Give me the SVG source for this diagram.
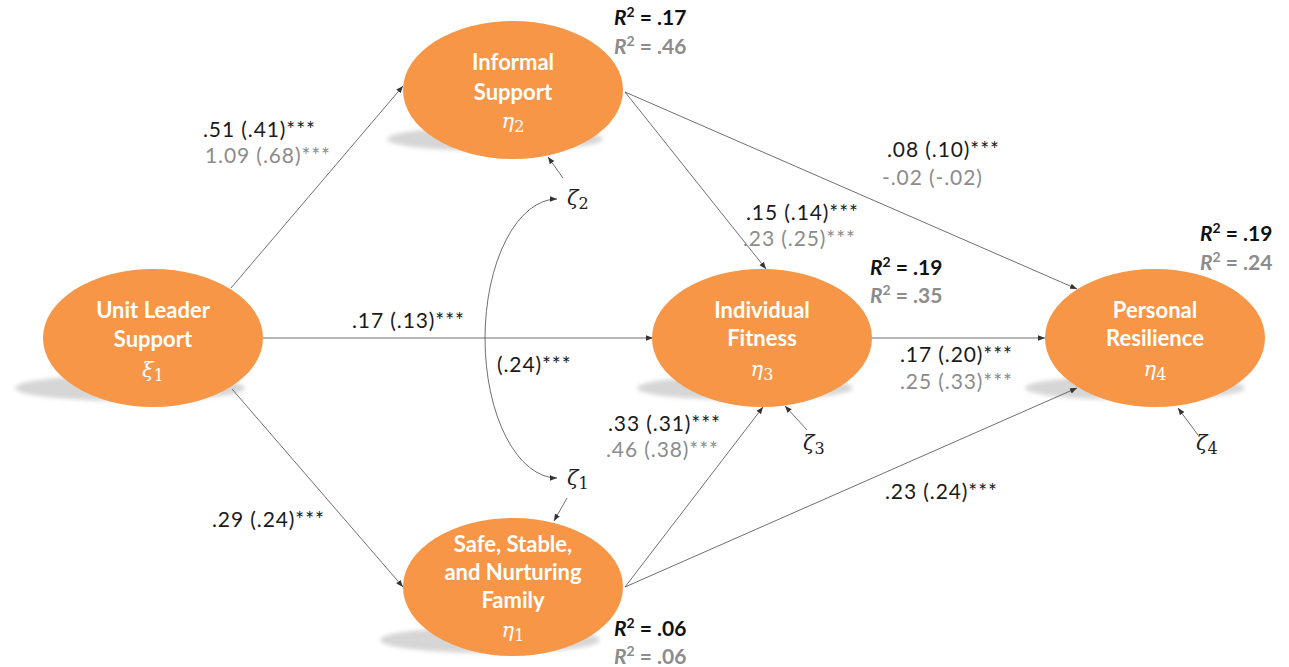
<svg xmlns="http://www.w3.org/2000/svg" width="1289" height="667" viewBox="0 0 1289 667">
<style>
.node{fill:#F79646;}
.shadow{fill:#d6d6d6;filter:url(#blur);}
.nt{font-family:Lato,"Liberation Sans",sans-serif;font-weight:bold;font-size:22px;fill:#ffffff;text-anchor:middle;}
.gk{font-family:"DejaVu Serif","Liberation Serif",serif;font-style:italic;font-size:21px;fill:#ffffff;text-anchor:middle;}
.zt{font-family:"DejaVu Serif","Liberation Serif",serif;font-style:italic;font-size:21px;fill:#222;}
.sub{font-style:normal;font-size:16px;}
.lb{font-family:Lato,"Liberation Sans",sans-serif;font-size:21px;letter-spacing:0.9px;fill:#1a1a1a;}
.lg{font-family:Lato,"Liberation Sans",sans-serif;font-size:21px;letter-spacing:0.9px;fill:#8c8c8c;}
.r2{font-family:Lato,"Liberation Sans",sans-serif;font-size:21px;font-weight:bold;fill:#111;}
.r2g{font-family:Lato,"Liberation Sans",sans-serif;font-size:21px;font-weight:bold;fill:#8c8c8c;}
.edge{stroke:#4a4a4a;stroke-width:0.8;fill:none;marker-end:url(#arr);}
</style>
<defs>
<filter id="blur" x="-20%" y="-50%" width="140%" height="200%"><feGaussianBlur stdDeviation="2"/></filter>
<marker id="arr" viewBox="0 0 10 10" refX="10" refY="5" markerWidth="7" markerHeight="7" markerUnits="userSpaceOnUse" orient="auto-start-reverse">
<path d="M0,1 L10,5 L0,9 z" fill="#333"/>
</marker>
</defs>

<g id="shadows">
<ellipse class="shadow" cx="130" cy="388" rx="115" ry="13"/>
<ellipse class="shadow" cx="495" cy="139" rx="108" ry="12"/>
<ellipse class="shadow" cx="490" cy="640" rx="110" ry="13"/>
<ellipse class="shadow" cx="745" cy="388" rx="108" ry="12"/>
<ellipse class="shadow" cx="1135" cy="388" rx="110" ry="12"/>
</g>

<g id="connectors">
<line class="edge" x1="231" y1="288" x2="403" y2="86"/>
<line class="edge" x1="263" y1="338" x2="653" y2="338"/>
<line class="edge" x1="232" y1="389" x2="403" y2="587"/>
<line class="edge" x1="625" y1="92" x2="766" y2="269"/>
<line class="edge" x1="625" y1="92" x2="1077" y2="289"/>
<line class="edge" x1="872" y1="338" x2="1045" y2="338"/>
<line class="edge" x1="625" y1="587" x2="763" y2="407"/>
<line class="edge" x1="625" y1="587" x2="1077" y2="388"/>
<line class="edge" x1="563" y1="178" x2="548" y2="157"/>
<line class="edge" x1="567" y1="498" x2="554" y2="521"/>
<line class="edge" x1="807" y1="430" x2="785" y2="406"/>
<line class="edge" x1="1198" y1="435" x2="1178" y2="408"/>
<path class="edge" d="M557,199 A72,139.5 0 0 0 557,478" style="marker-start:url(#arr)"/>
</g>

<g id="unit-leader-support">
<ellipse class="node" cx="153" cy="338" rx="110" ry="69"/>
<text class="nt" x="153" y="318">Unit Leader</text>
<text class="nt" x="153" y="347">Support</text>
<text class="gk" x="153" y="377">ξ<tspan class="sub" dy="4">1</tspan></text>
</g>

<g id="informal-support">
<ellipse class="node" cx="513" cy="90" rx="110" ry="69"/>
<text class="nt" x="513" y="70">Informal</text>
<text class="nt" x="513" y="100">Support</text>
<text class="gk" x="513" y="128">η<tspan class="sub" dy="4">2</tspan></text>
</g>

<g id="family">
<ellipse class="node" cx="513" cy="587" rx="110" ry="69"/>
<text class="nt" x="513" y="552">Safe, Stable,</text>
<text class="nt" x="513" y="580">and Nurturing</text>
<text class="nt" x="513" y="608">Family</text>
<text class="gk" x="513" y="637">η<tspan class="sub" dy="4">1</tspan></text>
</g>

<g id="individual-fitness">
<ellipse class="node" cx="762" cy="338" rx="110" ry="69"/>
<text class="nt" x="762" y="318">Individual</text>
<text class="nt" x="762" y="346">Fitness</text>
<text class="gk" x="762" y="376">η<tspan class="sub" dy="4">3</tspan></text>
</g>

<g id="personal-resilience">
<ellipse class="node" cx="1155" cy="338" rx="110" ry="69"/>
<text class="nt" x="1155" y="318">Personal</text>
<text class="nt" x="1155" y="346">Resilience</text>
<text class="gk" x="1155" y="376">η<tspan class="sub" dy="4">4</tspan></text>
</g>

<g id="disturbances">
<text class="zt" x="567" y="205">ζ<tspan class="sub" dy="4">2</tspan></text>
<text class="zt" x="567" y="485">ζ<tspan class="sub" dy="4">1</tspan></text>
<text class="zt" x="803" y="450">ζ<tspan class="sub" dy="4">3</tspan></text>
<text class="zt" x="1196" y="450">ζ<tspan class="sub" dy="4">4</tspan></text>
</g>

<g id="labels">
<text class="lb" x="203" y="137">.51 (.41)***</text>
<text class="lg" x="205" y="163">1.09 (.68)***</text>
<text class="lb" x="887" y="157">.08 (.10)***</text>
<text class="lg" x="882" y="185">-.02 (-.02)</text>
<text class="lb" x="746" y="220">.15 (.14)***</text>
<text class="lg" x="743" y="246">.23 (.25)***</text>
<text class="lb" x="352" y="328">.17 (.13)***</text>
<text class="lb" x="497" y="372">(.24)***</text>
<text class="lb" x="900" y="362">.17 (.20)***</text>
<text class="lg" x="900" y="389">.25 (.33)***</text>
<text class="lb" x="608" y="431">.33 (.31)***</text>
<text class="lg" x="606" y="457">.46 (.38)***</text>
<text class="lb" x="212" y="527">.29 (.24)***</text>
<text class="lb" x="885" y="499">.23 (.24)***</text>
</g>

<g id="r2">
<text class="r2" x="614" y="25"><tspan font-style="italic">R</tspan><tspan font-size="14" dy="-8">2</tspan><tspan dy="8"> = .17</tspan></text>
<text class="r2g" x="614" y="54"><tspan font-style="italic">R</tspan><tspan font-size="14" dy="-8">2</tspan><tspan dy="8"> = .46</tspan></text>
<text class="r2" x="870" y="275"><tspan font-style="italic">R</tspan><tspan font-size="14" dy="-8">2</tspan><tspan dy="8"> = .19</tspan></text>
<text class="r2g" x="870" y="303"><tspan font-style="italic">R</tspan><tspan font-size="14" dy="-8">2</tspan><tspan dy="8"> = .35</tspan></text>
<text class="r2" x="1200" y="241"><tspan font-style="italic">R</tspan><tspan font-size="14" dy="-8">2</tspan><tspan dy="8"> = .19</tspan></text>
<text class="r2g" x="1200" y="270"><tspan font-style="italic">R</tspan><tspan font-size="14" dy="-8">2</tspan><tspan dy="8"> = .24</tspan></text>
<text class="r2" x="614" y="636"><tspan font-style="italic">R</tspan><tspan font-size="14" dy="-8">2</tspan><tspan dy="8"> = .06</tspan></text>
<text class="r2g" x="614" y="664"><tspan font-style="italic">R</tspan><tspan font-size="14" dy="-8">2</tspan><tspan dy="8"> = .06</tspan></text>
</g>
</svg>
